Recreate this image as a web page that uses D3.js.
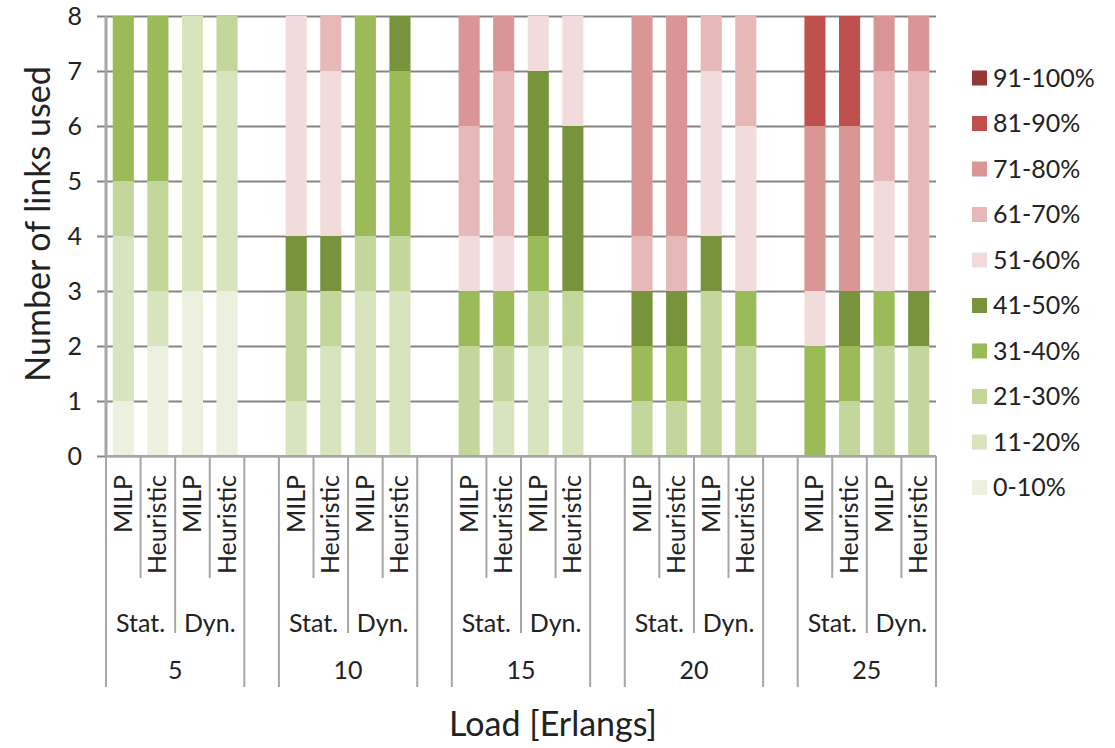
<!DOCTYPE html>
<html>
<head>
<meta charset="utf-8">
<script src="https://cdn.jsdelivr.net/npm/d3@7"></script>
<style>
  html, body { margin: 0; padding: 0; background: #ffffff; }
  svg { display: block; }
  text { font-family: Lato, "Open Sans", sans-serif; fill: #222222; }
</style>
</head>
<body>
<svg id="chart" width="1115" height="748"></svg>
<script>
// ---- data ----
const loads = ["5", "10", "15", "20", "25"];
const modes = ["Stat.", "Dyn."];
const methods = ["MILP", "Heuristic"];
const bins = ["0-10%", "11-20%", "21-30%", "31-40%", "41-50%", "51-60%", "61-70%", "71-80%", "81-90%", "91-100%"];
const binColors = ["#ebf1de", "#d7e4bd", "#c3d69b", "#9bbb59", "#77933c", "#f2dcdb", "#e6b9b8", "#d99694", "#c0504d", "#953735"];
const yTicks = [0, 1, 2, 3, 4, 5, 6, 7, 8];

// links per utilisation bin; bar order: load -> mode -> method
const v0_10   = [1,2,3,3, 0,0,0,0, 0,0,0,0, 0,0,0,0, 0,0,0,0];
const v11_20  = [3,1,5,4, 1,2,3,3, 0,1,2,2, 0,0,0,0, 0,0,0,0];
const v21_30  = [1,2,0,1, 2,1,1,1, 2,1,1,1, 1,1,3,2, 0,1,2,2];
const v31_40  = [3,3,0,0, 0,0,4,3, 1,1,1,0, 1,1,0,1, 2,1,1,0];
const v41_50  = [0,0,0,0, 1,1,0,1, 0,0,3,3, 1,1,1,0, 0,1,0,1];
const v51_60  = [0,0,0,0, 4,3,0,0, 1,1,1,2, 0,0,3,3, 1,0,2,0];
const v61_70  = [0,0,0,0, 0,1,0,0, 2,3,0,0, 1,1,1,2, 0,0,2,4];
const v71_80  = [0,0,0,0, 0,0,0,0, 2,1,0,0, 4,4,0,0, 3,3,1,1];
const v81_90  = [0,0,0,0, 0,0,0,0, 0,0,0,0, 0,0,0,0, 2,2,0,0];
const v91_100 = [0,0,0,0, 0,0,0,0, 0,0,0,0, 0,0,0,0, 0,0,0,0];
const seriesValues = [v0_10, v11_20, v21_30, v31_40, v41_50, v51_60, v61_70, v71_80, v81_90, v91_100];

// ---- build rows ----
const rows = [];
let k = 0;
loads.forEach(l => modes.forEach(m => methods.forEach(me => {
  const r = { key: l + "|" + m + "|" + me, load: l, mode: m, method: me };
  bins.forEach((b, i) => r[b] = seriesValues[i][k]);
  rows.push(r);
  k++;
})));

// slots: 4 bars per load, blank slot between loads
const slots = [];
loads.forEach((l, li) => {
  modes.forEach(m => methods.forEach(me => slots.push({ key: l + "|" + m + "|" + me, load: l, mode: m, method: me })));
  if (li < loads.length - 1) slots.push({ key: "blank" + li, blank: true });
});

const svg = d3.select("#chart");
const plot = { left: 106, right: 936, top: 16, bottom: 456 };

const x = d3.scaleBand().domain(slots.map(s => s.key)).range([plot.left, plot.right]).padding(0);
const y = d3.scaleLinear().domain([0, 8]).range([plot.bottom, plot.top]);
const color = d3.scaleOrdinal().domain(bins).range(binColors);

const barW = x.bandwidth() * 0.61;
const tickFont = 25;

// gridlines (behind bars)
const yAxis = d3.axisLeft(y).tickValues(yTicks).tickSize(-(plot.right - plot.left + 9)).tickSizeOuter(0);
const gy = svg.append("g").attr("transform", `translate(${plot.left - 9},0)`).call(yAxis);
gy.select(".domain").remove();
gy.selectAll(".tick line").attr("stroke", "#858585").attr("stroke-width", 2);
gy.selectAll(".tick text").attr("font-size", tickFont).attr("x", -15).attr("font-family", "Lato").style("fill", "#222");

// stacked bars
const stack = d3.stack().keys(bins);
const layers = stack(rows);
svg.append("g").selectAll("g").data(layers).join("g")
  .attr("fill", d => color(d.key))
  .selectAll("rect").data(d => d).join("rect")
  .attr("x", d => x(d.data.key) + (x.bandwidth() - barW) / 2)
  .attr("width", barW)
  .attr("y", d => y(d[1]))
  .attr("height", d => y(d[0]) - y(d[1]));

// y axis line
svg.append("line").attr("x1", plot.left).attr("x2", plot.left)
  .attr("y1", plot.top).attr("y2", plot.bottom)
  .attr("stroke", "#a6a6a6").attr("stroke-width", 3);

// multi-level category axis
const axisG = svg.append("g");
const yFull = 687, yMode = 633, yMethod = 578;
for (let i = 0; i <= slots.length; i++) {
  const bx = i < slots.length ? x(slots[i].key) : plot.right;
  const prev = slots[i - 1], next = slots[i];
  let y2;
  if (!prev || !next || prev.blank || next.blank) y2 = yFull;
  else if (prev.mode !== next.mode) y2 = yMode;
  else y2 = yMethod;
  axisG.append("line").attr("x1", bx).attr("x2", bx)
    .attr("y1", plot.bottom).attr("y2", y2)
    .attr("stroke", "#a6a6a6").attr("stroke-width", 2);
}
// bottom axis line
axisG.append("line").attr("x1", plot.left).attr("x2", plot.right)
  .attr("y1", plot.bottom).attr("y2", plot.bottom)
  .attr("stroke", "#a6a6a6").attr("stroke-width", 2);

// method labels
slots.filter(s => !s.blank).forEach(s => {
  const cx = x(s.key) + x.bandwidth() / 2;
  axisG.append("text")
    .attr("transform", `translate(${cx + 8.5},475) rotate(-90)`)
    .attr("text-anchor", "end")
    .attr("font-size", tickFont)
    .text(s.method);
});
// mode labels
loads.forEach(l => modes.forEach(m => {
  const a = x(l + "|" + m + "|MILP"), b = x(l + "|" + m + "|Heuristic") + x.bandwidth();
  axisG.append("text").attr("x", (a + b) / 2).attr("y", 632)
    .attr("text-anchor", "middle").attr("font-size", tickFont).text(m);
}));
// load labels
loads.forEach(l => {
  const a = x(l + "|Stat.|MILP"), b = x(l + "|Dyn.|Heuristic") + x.bandwidth();
  axisG.append("text").attr("x", (a + b) / 2).attr("y", 679)
    .attr("text-anchor", "middle").attr("font-size", tickFont).text(l);
});

// axis titles
svg.append("text").attr("transform", "translate(50,224) rotate(-90)")
  .attr("text-anchor", "middle").attr("font-size", 34).text("Number of links used");
svg.append("text").attr("x", 553).attr("y", 736)
  .attr("text-anchor", "middle").attr("font-size", 34).text("Load [Erlangs]");

// legend (reversed order)
const legendBins = bins.slice().reverse();
const lg = svg.append("g").selectAll("g").data(legendBins).join("g")
  .attr("transform", (d, i) => `translate(972,${78 + i * 45.5})`);
lg.append("rect").attr("x", 0).attr("y", -7.5).attr("width", 15).attr("height", 15).attr("fill", d => color(d));
lg.append("text").attr("x", 21).attr("y", 0).attr("dy", "0.35em").attr("font-size", 25).text(d => d);
</script>
</body>
</html>
